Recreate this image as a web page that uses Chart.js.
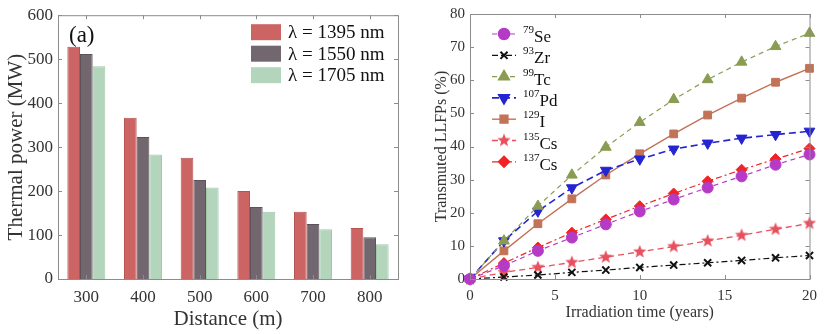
<!DOCTYPE html>
<html>
<head>
<meta charset="utf-8">
<script src="https://cdn.jsdelivr.net/npm/chart.js@4.4.0/dist/chart.umd.min.js"></script>
<style>
  body { margin: 0; background: #fff; font-family: "Liberation Serif", serif; }
  #wrapA { position: absolute; left: 0; top: 0; width: 420px; height: 334px; }
  #wrapB { position: absolute; left: 420px; top: 0; width: 405px; height: 334px; }
</style>
</head>
<body>
<div id="wrapA"><canvas id="chartA"></canvas></div>
<div id="wrapB"><canvas id="chartB"></canvas></div>
<script>
// ---- panel (a) data
let distances = ['300', '400', '500', '600', '700', '800'];
let power1395 = [528, 367, 276, 200, 153, 116];
let power1550 = [512, 323, 225, 164, 125, 95];
let power1705 = [484, 283, 208, 153, 113, 79];

// ---- panel (b) data
let years = [0, 2, 4, 6, 8, 10, 12, 14, 16, 18, 20];
let se79 = [0, 4.0, 8.5, 12.5, 16.5, 20.4, 24.0, 27.6, 31.0, 34.5, 37.6];
let zr93 = [0, 0.6, 1.2, 2.0, 2.7, 3.5, 4.2, 4.9, 5.6, 6.4, 7.1];
let tc99 = [0, 11.5, 22.0, 31.4, 39.8, 47.3, 54.2, 60.2, 65.5, 70.2, 74.2];
let pd107 = [0, 11.5, 20.5, 27.5, 32.8, 36.2, 39.2, 41.0, 42.5, 43.6, 44.6];
let i129 = [0, 8.5, 16.7, 24.2, 31.4, 37.8, 43.8, 49.5, 54.6, 59.4, 63.6];
let cs135 = [0, 2.0, 3.5, 5.0, 6.6, 8.2, 9.8, 11.5, 13.2, 15.0, 16.8];
let cs137 = [0, 4.8, 9.5, 14.0, 18.0, 22.0, 25.8, 29.5, 33.0, 36.2, 39.4];

const SERIF = "'Liberation Serif', serif";
const TXT = '#333333';

// box around plot with inward ticks (MATLAB style)
const boxPlugin = {
  id: 'box',
  afterDraw(chart) {
    let ctx = chart.ctx, a = chart.chartArea;
    ctx.save();
    ctx.strokeStyle = '#8c8c8c';
    ctx.lineWidth = 1;
    ctx.strokeRect(a.left + 0.5, a.top + 0.5, a.right - a.left, a.bottom - a.top);
    let ys = chart.scales.y;
    ys.ticks.forEach(t => {
      let p = Math.round(ys.getPixelForValue(t.value)) + 0.5;
      ctx.beginPath();
      ctx.moveTo(a.left, p); ctx.lineTo(a.left + 4, p);
      ctx.moveTo(a.right, p); ctx.lineTo(a.right - 4, p);
      ctx.stroke();
    });
    let xs = chart.scales.x;
    xs.ticks.forEach((t, i) => {
      let p = Math.round(xs.getPixelForTick(i)) + 0.5;
      ctx.beginPath();
      ctx.moveTo(p, a.bottom); ctx.lineTo(p, a.bottom - 4);
      ctx.moveTo(p, a.top); ctx.lineTo(p, a.top + 4);
      ctx.stroke();
    });
    ctx.restore();
  }
};

// ---------- chart (a)
const legendA = {
  id: 'legendA',
  afterDraw(chart) {
    let ctx = chart.ctx, a = chart.chartArea;
    ctx.save();
    ctx.font = '23px ' + SERIF;
    ctx.fillStyle = '#111';
    ctx.textBaseline = 'middle';
    ctx.fillText('(a)', a.left + 11, a.top + 21);
    ctx.font = '19px ' + SERIF;
    chart.data.datasets.forEach((ds, i) => {
      let y = a.top + 17 + i * 21.5;
      ctx.fillStyle = ds.backgroundColor;
      ctx.fillRect(a.right - 147, y - 8, 30, 16);
      ctx.fillStyle = '#111';
      ctx.fillText(ds.label, a.right - 110, y + 1);
    });
    ctx.restore();
  }
};

function makeStar(r, color) {
  let c = document.createElement('canvas');
  c.width = c.height = r * 2 + 2;
  let g = c.getContext('2d');
  g.fillStyle = color;
  g.beginPath();
  for (let k = 0; k < 10; k++) {
    let rad = k % 2 === 0 ? r : r * 0.42;
    let ang = -Math.PI / 2 + k * Math.PI / 5;
    let px = r + 1 + rad * Math.cos(ang), py = r + 1 + rad * Math.sin(ang);
    if (k === 0) g.moveTo(px, py); else g.lineTo(px, py);
  }
  g.closePath();
  g.fill();
  return c;
}

function draw() {
  new Chart(document.getElementById('chartA'), {
    type: 'bar',
    data: {
      labels: distances,
      datasets: [
        { label: 'λ = 1395 nm', data: power1395, backgroundColor: '#cd6464', borderColor: '#b55252', borderWidth: 1 },
        { label: 'λ = 1550 nm', data: power1550, backgroundColor: '#72676f', borderColor: '#5c525a', borderWidth: 1 },
        { label: 'λ = 1705 nm', data: power1705, backgroundColor: '#b3d5bb', borderColor: '#a2c7aa', borderWidth: 1 }
      ]
    },
    options: {
      responsive: true,
      maintainAspectRatio: false,
      animation: false,
      layout: { padding: { top: 13, right: 22, left: 4, bottom: 2 } },
      datasets: { bar: { categoryPercentage: 0.67, barPercentage: 1.0 } },
      plugins: { legend: { display: false }, tooltip: { enabled: false } },
      scales: {
        x: {
          grid: { display: false, drawTicks: false },
          border: { display: false },
          ticks: { color: TXT, font: { family: SERIF, size: 17 }, padding: 8 },
          title: { display: true, text: 'Distance (m)', color: TXT, font: { family: SERIF, size: 21 }, padding: 0 },
          afterFit(s) { s.height = 53; }
        },
        y: {
          min: 0, max: 600,
          grid: { display: false, drawTicks: false },
          border: { display: false },
          ticks: { stepSize: 100, color: TXT, font: { family: SERIF, size: 17 }, padding: 5 },
          title: { display: true, text: 'Thermal power (MW)', color: TXT, font: { family: SERIF, size: 21 }, padding: 0 },
          afterFit(s) { s.width = 54; }
        }
      }
    },
    plugins: [boxPlugin, legendA]
  });

  const starImg = makeStar(7, '#e8505e');
  let series = [
    { sup: '79', name: 'Se', data: se79, color: '#b53ac6', dash: [5, 4], style: 'circle', r: 5.5, rot: 0, lw: 1.2, pw: 1 },
    { sup: '93', name: 'Zr', data: zr93, color: '#111111', dash: [6, 3, 2, 3], style: 'crossRot', r: 5, rot: 0, lw: 1.2, pw: 2 },
    { sup: '99', name: 'Tc', data: tc99, color: '#8a9c52', dash: [5, 4], style: 'triangle', r: 6.2, rot: 0, lw: 1.2, pw: 1 },
    { sup: '107', name: 'Pd', data: pd107, color: '#2424d0', dash: [7, 4], style: 'triangle', r: 6.2, rot: 180, lw: 1.6, pw: 1 },
    { sup: '129', name: 'I', data: i129, color: '#c27257', dash: [], style: 'rect', r: 5.5, rot: 0, lw: 1.4, pw: 1 },
    { sup: '135', name: 'Cs', data: cs135, color: '#e8505e', dash: [6, 4], style: starImg, r: 7, rot: 0, lw: 1.3, pw: 1 },
    { sup: '137', name: 'Cs', data: cs137, color: '#f02424', dash: [6, 3, 2, 3], style: 'rectRot', r: 5.5, rot: 0, lw: 1.2, pw: 1 }
  ];

  const legendB = {
    id: 'legendB',
    afterDraw(chart) {
      let ctx = chart.ctx, a = chart.chartArea;
      ctx.save();
      series.forEach((s, i) => {
        let y = a.top + 20 + i * 21.3;
        let x0 = a.left + 22, x1 = a.left + 46, xm = (x0 + x1) / 2;
        ctx.strokeStyle = s.color;
        ctx.fillStyle = s.color;
        ctx.lineWidth = s.lw;
        ctx.setLineDash(s.dash);
        ctx.beginPath(); ctx.moveTo(x0, y); ctx.lineTo(x1, y); ctx.stroke();
        ctx.setLineDash([]);
        ctx.lineWidth = Math.max(1.5, s.pw);
        Chart.helpers.drawPoint(ctx, {
          pointStyle: s.style, radius: s.r, rotation: s.rot, borderWidth: Math.max(1.5, s.pw)
        }, xm, y);
        ctx.fillStyle = '#111';
        ctx.textBaseline = 'alphabetic';
        ctx.font = '11px ' + SERIF;
        let tx = a.left + 53;
        ctx.fillText(s.sup, tx, y - 1);
        let w = ctx.measureText(s.sup).width;
        ctx.font = '17px ' + SERIF;
        ctx.fillText(s.name, tx + w, y + 8);
      });
      ctx.restore();
    }
  };

  new Chart(document.getElementById('chartB'), {
    type: 'line',
    data: {
      datasets: series.map(s => ({
        label: s.sup + s.name,
        data: years.map((x, k) => ({ x: x, y: s.data[k] })),
        borderColor: s.color,
        backgroundColor: s.color,
        borderWidth: s.lw,
        borderDash: s.dash,
        pointStyle: s.style,
        pointRadius: s.r,
        pointRotation: s.rot,
        pointBorderWidth: s.pw,
        pointBackgroundColor: s.color,
        pointBorderColor: s.color,
        tension: 0,
        clip: false
      }))
    },
    options: {
      responsive: true,
      maintainAspectRatio: false,
      animation: false,
      layout: { padding: { top: 14, right: 14, left: 12, bottom: 12 } },
      plugins: { legend: { display: false }, tooltip: { enabled: false } },
      scales: {
        x: {
          type: 'linear', min: 0, max: 20,
          grid: { display: false, drawTicks: false },
          border: { display: false },
          ticks: { stepSize: 5, color: TXT, font: { family: SERIF, size: 15 }, padding: 8 },
          title: { display: true, text: 'Irradiation time (years)', color: TXT, font: { family: SERIF, size: 16 }, padding: 0 },
          afterFit(s) { s.height = 43; }
        },
        y: {
          min: 0, max: 80,
          grid: { display: false, drawTicks: false },
          border: { display: false },
          ticks: { stepSize: 10, color: TXT, font: { family: SERIF, size: 15 }, padding: 5 },
          title: { display: true, text: 'Transmuted LLFPs (%)', color: TXT, font: { family: SERIF, size: 16 }, padding: 0 },
          afterFit(s) { s.width = 38; }
        }
      }
    },
    plugins: [boxPlugin, legendB]
  });
}

document.fonts.load("17px 'Liberation Serif'").then(draw, draw);
</script>
</body>
</html>
